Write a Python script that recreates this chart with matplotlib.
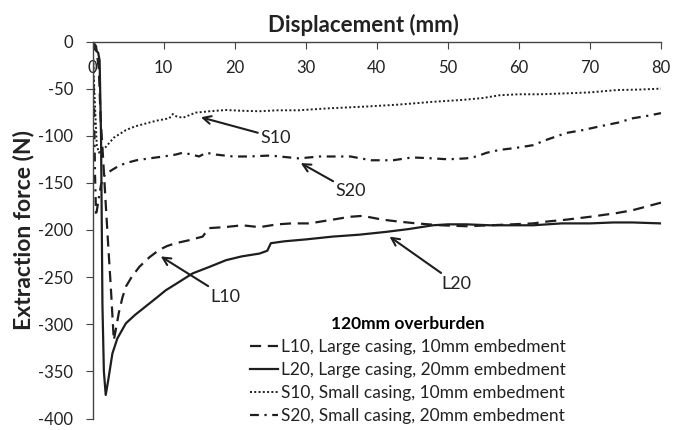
import matplotlib
matplotlib.use("Agg")
import matplotlib.pyplot as plt

plt.rcParams['font.family'] = ['Lato', 'DejaVu Sans']
plt.rcParams['axes.unicode_minus'] = False

# data (displacement mm, extraction force N)
l10_x = [0, 0.5, 0.9, 1.15, 1.5, 1.86, 2.2, 2.57, 3.0, 3.3, 3.7, 4.2, 4.7, 5.5, 6.6, 8.0, 9.4, 10.5,
         11.7, 13.5, 15.5, 16.4, 18.5, 21.1, 23.5, 26, 28, 30.5, 33, 36.2, 38, 40.8, 43, 45.6, 49,
         52.6, 56, 59, 62, 64, 66.7, 70, 73.8, 76, 78, 80]
l10_y = [0, -5, -30, -83, -125, -172, -215, -260, -317, -305, -288, -272, -260, -250, -239, -229, -221,
         -217, -214, -211, -207, -198, -197, -195, -197, -194, -193, -193, -190, -186, -185, -189, -191,
         -193, -195, -196, -195, -194, -193, -191, -189, -186, -182, -179, -175, -171]

l20_x = [0, 0.3, 0.8, 1.0, 1.2, 1.4, 1.6, 1.86, 2.2, 2.8, 3.5, 4.7, 6.0, 7.5, 9.0, 10.3, 12, 14.1,
         16.5, 18.8, 21, 23.5, 24.6, 25.1, 27, 30, 33.8, 37.5, 41.3, 44.5, 47.9, 50, 52.6, 56, 59, 62,
         66, 70, 73.3, 76, 80]
l20_y = [0, -8, -12, -20, -100, -280, -350, -375, -360, -331, -315, -299, -290, -281, -272, -264, -256,
         -246, -239, -232, -228, -225, -222, -214, -212, -210, -207, -205, -202, -199, -195, -194, -194,
         -195, -195, -195, -193, -193, -192, -192, -193]

s10_x = [0, 0.3, 0.6, 0.9, 1.2, 1.86, 3.0, 4.7, 6, 7.5, 9, 10.8, 11.3, 11.6, 12.7, 14.5, 16.5, 18.8,
         21, 23.5, 26, 29, 33, 38.5, 43, 47.9, 52, 54.9, 57.3, 60, 63, 66.7, 70, 73.8, 77, 80]
s10_y = [0, -60, -110, -118, -115, -112, -102, -94, -90, -87, -84, -81.5, -77, -79, -81, -75.5, -74,
         -72.7, -73.5, -74, -73, -73, -71, -69, -67, -64, -62, -60, -57, -56, -56, -55, -54, -51.5, -51, -50]

s20_x = [0, 0.2, 0.35, 0.5, 0.8, 1.2, 1.6, 2.2, 2.8, 3.7, 4.7, 6.2, 8, 10, 11.7, 12.7, 14, 15, 16,
         17.4, 19.8, 22, 25, 29, 32, 36.3, 39.2, 42.3, 45, 47.9, 50, 52.6, 54, 55.5, 57.3, 59.5, 62,
         64, 66.7, 69, 71.4, 74, 76, 78, 80]
s20_y = [0, -60, -140, -185, -170, -152, -143, -139, -136, -132, -129, -126, -124, -122, -120, -118,
         -120, -122, -118, -120, -122, -122, -121, -124, -122, -122, -126, -126, -123, -124, -125, -124,
         -122, -118, -115, -113, -110, -104, -97, -94, -90, -86, -81.5, -79, -76]

labels = ['L10, Large casing, 10mm embedment',
          'L20, Large casing, 20mm embedment',
          'S10, Small casing, 10mm embedment',
          'S20, Small casing, 20mm embedment']

x_ticks = [0, 10, 20, 30, 40, 50, 60, 70, 80]
y_ticks = [0, -50, -100, -150, -200, -250, -300, -350, -400]

ink = '#1e1e1e'
txt = '#222222'

fig = plt.figure(figsize=(6.73, 4.30), dpi=100)
ax = fig.add_axes([92.5 / 673, 11.5 / 430, (661 - 92.5) / 673, (418.5 - 41.5) / 430])

ax.plot(l10_x, l10_y, color=ink, lw=1.6, dashes=(5, 3), label=labels[0])
ax.plot(l20_x, l20_y, color=ink, lw=1.6, label=labels[1])
ax.plot(s10_x, s10_y, color=ink, lw=1.4, dashes=(1, 1.2), label=labels[2])
ax.plot(s20_x, s20_y, color=ink, lw=1.6, dashes=(4, 2.5, 1, 2.5), label=labels[3])

ax.set_xlim(0, 80)
ax.set_ylim(-400, 0)
ax.set_xticks(x_ticks)
ax.set_yticks(y_ticks)

# x axis sits on the top spine, ticks inward, labels just under the line
ax.spines['bottom'].set_visible(False)
ax.spines['right'].set_visible(False)
for s in ['top', 'left']:
    ax.spines[s].set_color('#444444')
    ax.spines[s].set_linewidth(1.0)
ax.xaxis.set_ticks_position('top')
ax.tick_params(axis='x', direction='in', length=5, color='#444444', labelsize=12, pad=-25,
               labelcolor=txt)
ax.tick_params(axis='y', direction='out', length=5, color='#444444', labelsize=12, pad=9,
               labelcolor=txt)

fig.text(363 / 673, 1 - 32 / 430, 'Displacement (mm)', ha='center', va='baseline',
         fontsize=16, fontweight='bold', color=txt)
fig.text(24 / 673, 1 - 230.5 / 430, 'Extraction force (N)', ha='center', va='center',
         rotation=90, fontsize=16.5, fontweight='bold', color=txt)

arrow = dict(arrowstyle='->', color=ink, lw=1.5, shrinkA=0, shrinkB=0, mutation_scale=14)
ax.annotate('S10', xy=(15.25, -80.4), xytext=(25.8, -102), fontsize=13, ha='center', va='center',
            arrowprops=arrow, color=txt)
ax.annotate('S20', xy=(29.3, -129), xytext=(36.4, -159), fontsize=13, ha='center', va='center',
            arrowprops=arrow, color=txt)
ax.annotate('L20', xy=(41.8, -207), xytext=(51.2, -257), fontsize=13, ha='center', va='center',
            arrowprops=arrow, color=txt)
ax.annotate('L10', xy=(9.6, -228), xytext=(18.7, -271), fontsize=13, ha='center', va='center',
            arrowprops=arrow, color=txt)

leg = ax.legend(loc='center', bbox_to_anchor=(408 / 673, 1 - 370 / 430), bbox_transform=fig.transFigure,
                frameon=False, fontsize=12.5, title='120mm overburden', handlelength=1.6,
                handletextpad=0.15, labelspacing=0.4, borderpad=0, borderaxespad=0)
leg.get_title().set_fontweight('bold')
leg.get_title().set_fontsize(12.5)
for t in leg.get_texts():
    t.set_color(txt)

fig.savefig('out.png', dpi=100)
